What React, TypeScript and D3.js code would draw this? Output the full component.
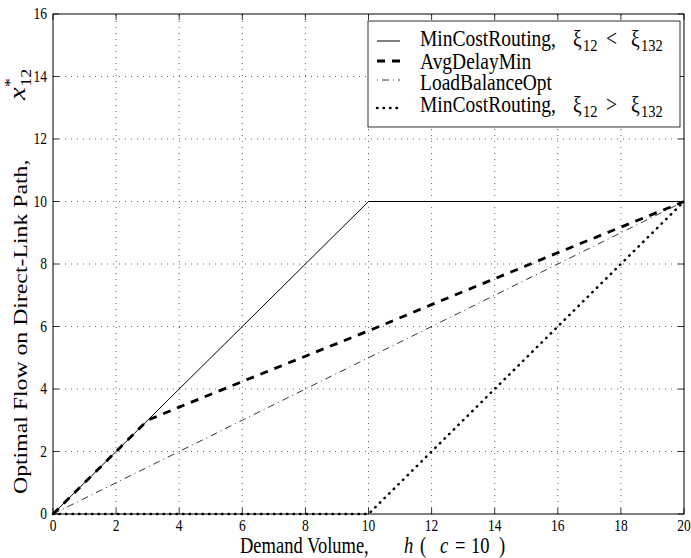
import React from "react";
import * as d3 from "d3";

const W = 691;
const H = 558;
const SY = 1.2; // vertical stretch of text as seen in the reference

const xTicks = [0, 2, 4, 6, 8, 10, 12, 14, 16, 18, 20];
const yTicks = [0, 2, 4, 6, 8, 10, 12, 14, 16];

const minCostLowH = [0, 10, 20];
const minCostLowX = [0, 10, 10];
const avgDelayH = [0, 3, 4, 6, 8, 10, 12, 14, 16, 18, 20];
const avgDelayX = [0, 3, 3.42, 4.24, 5.05, 5.86, 6.7, 7.53, 8.36, 9.18, 10];
const loadBalH = [0, 20];
const loadBalX = [0, 10];
const minCostHighH = [0, 10, 20];
const minCostHighX = [0, 0, 10];

const legendLabels = ["MinCostRouting,", "AvgDelayMin", "LoadBalanceOpt", "MinCostRouting,"];
const legendOps = ["<", null, null, ">"];

const FONT = "'Liberation Serif', 'Times New Roman', serif";

function ST({ x, y, size, anchor = "start", children, italic = false, sy = SY }: any) {
  return (
    <g transform={`translate(${x},${y}) scale(1,${sy})`}>
      <text
        textAnchor={anchor}
        fontSize={size}
        fontFamily={FONT}
        fontStyle={italic ? "italic" : "normal"}
        fill="#000"
      >
        {children}
      </text>
    </g>
  );
}

export default function App() {
  const left = 53, right = 684, top = 14, bottom = 514;
  const x = d3.scaleLinear().domain([0, 20]).range([left, right]);
  const y = d3.scaleLinear().domain([0, 16]).range([bottom, top]);
  const line = d3
    .line<[number, number]>()
    .x((d) => x(d[0]))
    .y((d) => y(d[1]));
  const zip = (a: number[], b: number[]) => a.map((v, i) => [v, b[i]] as [number, number]);

  const tickLen = 6;
  const legX1 = 377, legX2 = 400, legText = 420, legMath = 573;
  const rowStyle = [
    { ly: 41, ty: 46, dash: null, w: 1, cap: "butt" },
    { ly: 61, ty: 69, dash: "8,7", w: 2.8, cap: "butt" },
    { ly: 80, ty: 90, dash: "1,4,7,4", w: 0.8, cap: "butt" },
    { ly: 108, ty: 112, dash: "0.5,6", w: 2.5, cap: "round" },
  ];
  const LF = 19.5;
  const LSY = 1.15;

  return (
    <svg
      width={W}
      height={H}
      style={{ position: "absolute", left: 0, top: 0, background: "#fff" }}
    >
      <rect x={0} y={0} width={W} height={H} fill="#fff" />
      {/* grid */}
      <g stroke="#222" strokeWidth={0.7} strokeDasharray="1,5">
        {xTicks.slice(1, -1).map((t) => (
          <line key={"gx" + t} x1={x(t)} x2={x(t)} y1={bottom} y2={top} />
        ))}
        {yTicks.slice(1, -1).map((t) => (
          <line key={"gy" + t} x1={left} x2={right} y1={y(t)} y2={y(t)} />
        ))}
      </g>
      {/* ticks */}
      <g stroke="#000" strokeWidth={0.8}>
        {xTicks.map((t) => (
          <g key={"tx" + t}>
            <line x1={x(t)} x2={x(t)} y1={bottom} y2={bottom - tickLen} />
            <line x1={x(t)} x2={x(t)} y1={top} y2={top + tickLen} />
          </g>
        ))}
        {yTicks.map((t) => (
          <g key={"ty" + t}>
            <line x1={left} x2={left + tickLen} y1={y(t)} y2={y(t)} />
            <line x1={right} x2={right - tickLen} y1={y(t)} y2={y(t)} />
          </g>
        ))}
      </g>
      {/* data lines */}
      <g fill="none" stroke="#000">
        <path d={line(zip(minCostLowH, minCostLowX)) || ""} strokeWidth={1} />
        <path d={line(zip(avgDelayH, avgDelayX)) || ""} strokeWidth={2.8} strokeDasharray="8,7" />
        <path d={line(zip(loadBalH, loadBalX)) || ""} strokeWidth={0.8} strokeDasharray="7,4,1,4" />
        <path
          d={line(zip(minCostHighH, minCostHighX)) || ""}
          strokeWidth={2.5}
          strokeDasharray="0.5,6"
          strokeLinecap="round"
        />
      </g>
      {/* frame */}
      <rect x={left} y={top} width={right - left} height={bottom - top} fill="none" stroke="#000" strokeWidth={1} />
      {/* tick labels */}
      {xTicks.map((t) => (
        <ST key={"lx" + t} x={x(t)} y={531} size={13.5} anchor="middle">
          {String(t)}
        </ST>
      ))}
      {yTicks.map((t) => (
        <ST key={"ly" + t} x={47} y={y(t) + 5} size={13.5} anchor="end">
          {String(t)}
        </ST>
      ))}
      {/* x label */}
      <ST x={240} y={553} size={18.5}>Demand Volume,</ST>
      <ST x={404} y={553} size={18.5} italic>h</ST>
      <ST x={420} y={553} size={18.5}>(</ST>
      <ST x={440} y={553} size={18.5} italic>c</ST>
      <ST x={455} y={553} size={18.5}>=</ST>
      <ST x={471} y={553} size={18.5}>10</ST>
      <ST x={499} y={553} size={18.5}>)</ST>
      {/* y label */}
      <g transform={`translate(27,494) scale(1,1.25) rotate(-90)`}>
        <text fontSize={19} fontFamily={FONT} fill="#000">
          Optimal Flow on Direct-Link Path,
        </text>
      </g>
      <g transform={`translate(25,100) scale(1,1.2) rotate(-90)`}>
        <text fontSize={24} fontFamily={FONT} fill="#000">
          <tspan fontStyle="italic">x</tspan>
          <tspan fontSize={15} dy={-10}>*</tspan>
          <tspan fontSize={15} dx={-7} dy={16}>12</tspan>
        </text>
      </g>
      {/* legend */}
      <rect x={368} y={21} width={312} height={106} fill="#fff" stroke="#000" strokeWidth={0.8} />
      {rowStyle.map((r, i) => (
        <g key={"leg" + i}>
          <line
            x1={legX1}
            x2={legX2}
            y1={r.ly}
            y2={r.ly}
            stroke="#000"
            strokeWidth={r.w}
            strokeDasharray={r.dash || undefined}
            strokeLinecap={r.cap as any}
          />
          <ST x={legText} y={r.ty} size={LF} sy={LSY}>{legendLabels[i]}</ST>
          {legendOps[i] && (
            <g transform={`translate(0,${r.ty}) scale(1,${LSY})`}>
              <text fontSize={LF} fontFamily={FONT} fill="#000">
                <tspan x={legMath}>ξ</tspan>
                <tspan x={legMath + 10} fontSize={14.5} dy={4}>12</tspan>
                <tspan x={legMath + 33} dy={-4}>{legendOps[i]}</tspan>
                <tspan x={legMath + 58}>ξ</tspan>
                <tspan x={legMath + 68} fontSize={14.5} dy={4}>132</tspan>
              </text>
            </g>
          )}
        </g>
      ))}
    </svg>
  );
}
